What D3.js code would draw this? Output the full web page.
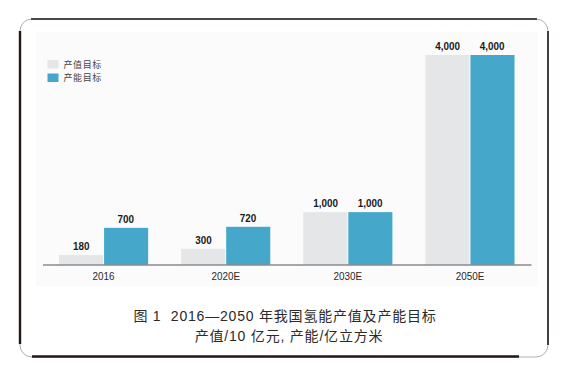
<!DOCTYPE html>
<html>
<head>
<meta charset="utf-8">
<script src="https://cdn.jsdelivr.net/npm/d3@7/dist/d3.min.js"></script>
<style>
  html, body { margin: 0; padding: 0; background: #ffffff; }
  svg { display: block; }
</style>
</head>
<body>
<svg id="chart" width="573" height="374"></svg>
<script>
// ---- data ----
const categories = ["2016", "2020E", "2030E", "2050E"];
const seriesNames = ["产值目标", "产能目标"];
const outputValueTarget = [180, 300, 1000, 4000];
const capacityTarget = [700, 720, 1000, 4000];
const seriesColors = ["#e5e6e8", "#45a7c9"];
const captionLine1 = "图 1  2016—2050 年我国氢能产值及产能目标";
const captionLine2 = "产值/10 亿元, 产能/亿立方米";

const series = [outputValueTarget, capacityTarget];

const svg = d3.select("#chart");

// ---- card frame ----
const card = {x0: 20, y0: 19, x1: 548, y1: 357, r: 12};
svg.append("rect")
  .attr("x", card.x0).attr("y", card.y0)
  .attr("width", card.x1 - card.x0).attr("height", card.y1 - card.y0)
  .attr("rx", card.r).attr("ry", card.r)
  .attr("fill", "#ffffff").attr("stroke", "#9a9a9a").attr("stroke-width", 0.8);
const frame = svg.append("g").attr("stroke", "#231815").attr("fill", "none");
frame.append("line").attr("x1", card.x0).attr("x2", card.x0).attr("y1", 31).attr("y2", 344).attr("stroke-width", 2.4);
frame.append("line").attr("x1", 31).attr("x2", 537).attr("y1", card.y0).attr("y2", card.y0).attr("stroke-width", 1.4);
frame.append("line").attr("x1", card.x1).attr("x2", card.x1).attr("y1", 31).attr("y2", 345).attr("stroke-width", 1.6);
frame.append("line").attr("x1", 32).attr("x2", 519).attr("y1", card.y1 - 0.5).attr("y2", card.y1 - 0.5).attr("stroke-width", 2.4);

// ---- chart panel ----
svg.append("rect")
  .attr("x", 36).attr("y", 32).attr("width", 502).attr("height", 254)
  .attr("fill", "#fbfbfb");

// ---- scales ----
const x = d3.scaleBand().domain(categories).range([42.5, 531])
  .paddingInner(0.27).paddingOuter(0.135);
const xs = d3.scaleBand().domain(d3.range(series.length)).range([0, x.bandwidth()]);
const y = d3.scaleLinear().domain([0, 4000]).range([264.5, 55]);

// ---- bars ----
const groups = svg.append("g").selectAll("g")
  .data(categories).join("g")
  .attr("transform", d => `translate(${x(d)},0)`);

const fmt = d3.format(",");
series.forEach((vals, si) => {
  groups.append("rect")
    .attr("x", (d, i) => xs(si) + (si === 1 ? 0.5 : 0))
    .attr("width", xs.bandwidth() - 0.5)
    .attr("y", (d, i) => y(vals[i]))
    .attr("height", (d, i) => y(0) - y(vals[i]))
    .attr("fill", seriesColors[si]);
  groups.append("text")
    .attr("transform", (d, i) => `translate(${xs(si) + xs.bandwidth() / 2},${y(vals[i]) - 5}) scale(0.86,1)`)
    .attr("text-anchor", "middle")
    .attr("font-family", "'Liberation Sans', Arial, sans-serif")
    .attr("font-weight", "bold")
    .attr("font-size", 11.5)
    .attr("fill", "#1a1a1a")
    .text((d, i) => fmt(vals[i]));
});

// ---- x axis ----
const xAxis = svg.append("g")
  .attr("transform", `translate(0,${y(0)})`)
  .call(d3.axisBottom(x).tickSize(0).tickSizeOuter(0).tickPadding(0));
xAxis.select(".domain").attr("stroke", "#555").attr("stroke-width", 1.1);
xAxis.selectAll(".tick text")
  .attr("font-family", "'Liberation Sans', Arial, sans-serif")
  .attr("font-size", 11.5)
  .attr("fill", "#2a2a2a")
  .attr("dy", 0)
  .attr("y", 0)
  .attr("transform", "translate(0,15.5) scale(0.86,1)");

// ---- legend ----
const legend = svg.append("g").selectAll("g")
  .data(seriesNames).join("g")
  .attr("transform", (d, i) => `translate(47.5,${60 + i * 13.5})`);
legend.append("rect")
  .attr("width", 11).attr("height", 8.5)
  .attr("fill", (d, i) => seriesColors[i]);
legend.append("text")
  .attr("x", 16).attr("y", 7.8)
  .attr("font-family", "'Noto Sans CJK SC', sans-serif")
  .attr("font-size", 9)
  .attr("letter-spacing", 0.6)
  .attr("fill", "#444")
  .text(d => d);

// ---- caption ----
const cap = svg.append("g")
  .attr("font-family", "'Liberation Sans', 'Noto Sans CJK SC', sans-serif")
  .attr("font-size", 14)
  .attr("fill", "#2a2a2a")
  .attr("text-anchor", "middle");
cap.append("text").attr("x", 285).attr("y", 321).attr("letter-spacing", 0.8)
  .style("white-space", "pre").text(captionLine1);
cap.append("text").attr("x", 289).attr("y", 341).attr("letter-spacing", 0.8)
  .text(captionLine2);
</script>
</body>
</html>
